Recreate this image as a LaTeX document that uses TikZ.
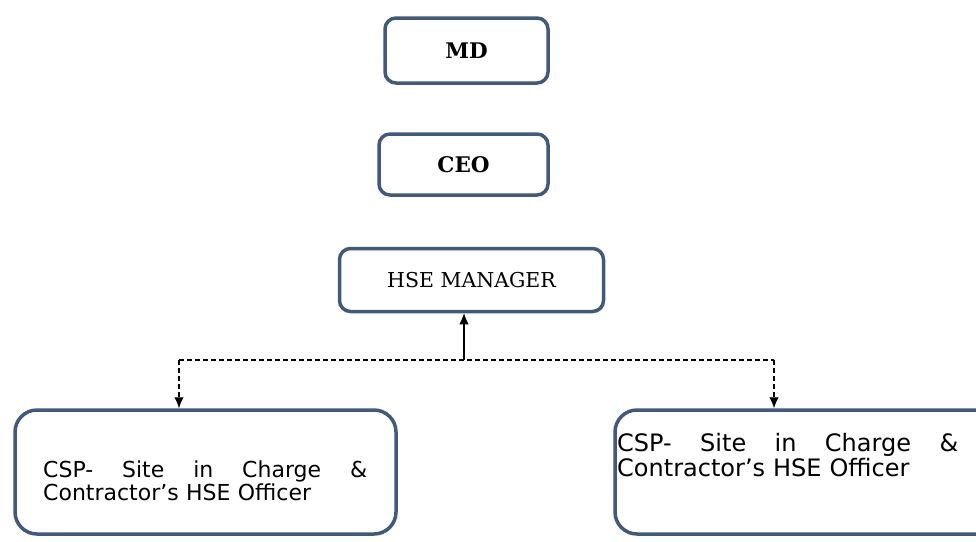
\documentclass[tikz,border=0pt]{standalone}
\usepackage{fontspec}
\setmainfont{DejaVu Serif}
\newfontfamily\csfont{DejaVu Sans}
\usetikzlibrary{arrows.meta}
\definecolor{boxblue}{RGB}{64,90,124}
\begin{document}
\begin{tikzpicture}[x=1pt,y=-1pt,
  orgbox/.style={draw=boxblue,line width=3.5pt,fill=white,rounded corners=11pt,inner sep=0pt},
  bigbox/.style={draw=boxblue,line width=3.5pt,fill=white,rounded corners=22pt,inner sep=0pt},
  csptext/.style={inner sep=0pt,anchor=west,align=left},
  link/.style={line width=1.1pt,-{Latex[length=11pt,width=9.5pt]}},
  dlink/.style={link,dash pattern=on 5pt off 3pt},
  dline/.style={line width=1.1pt,dash pattern=on 5pt off 3pt}]
\useasboundingbox (0,0) rectangle (976,541);
% boxes
\node[orgbox,minimum width=163pt,minimum height=65pt,font=\fontsize{21.5}{24}\selectfont\bfseries] (md) at (466.5,50.5) {MD};
\node[orgbox,minimum width=169pt,minimum height=61pt,font=\fontsize{21.5}{24}\selectfont\bfseries] (ceo) at (463.5,164.5) {CEO};
\node[orgbox,minimum width=264pt,minimum height=63pt,font=\fontsize{20.5}{24}\selectfont] (hse) at (471.5,280) {HSE MANAGER};
\node[bigbox,minimum width=381pt,minimum height=124pt] (csp1) at (205.5,472) {};
\node[bigbox,minimum width=385pt,minimum height=124pt] (csp2) at (807.5,472) {};
% texts in the lower boxes
\node[csptext,text width=324pt,font=\csfont\fontsize{22}{23}\selectfont] (t1) at (43,481)
  {\hbox to 324pt{CSP-\hfill Site\hfill in\hfill Charge\hfill \&}\\Contractor’s HSE Officer};
\node[csptext,text width=341pt,font=\csfont\fontsize{24}{25}\selectfont] (t2) at (617,455)
  {\hbox to 341pt{CSP-\hfill Site\hfill in\hfill Charge\hfill \&}\\Contractor’s HSE Officer};
% connectors
\coordinate (j) at (464,360);
\coordinate (jl) at (179,360);
\coordinate (jr) at (774,360);
\draw[link] (j) -- (j |- hse.south);
\draw[dline] (jl) -- (jr);
\draw[dlink] (jl) -- (jl |- csp1.north);
\draw[dlink] (jr) -- (jr |- csp2.north);
\end{tikzpicture}
\end{document}
